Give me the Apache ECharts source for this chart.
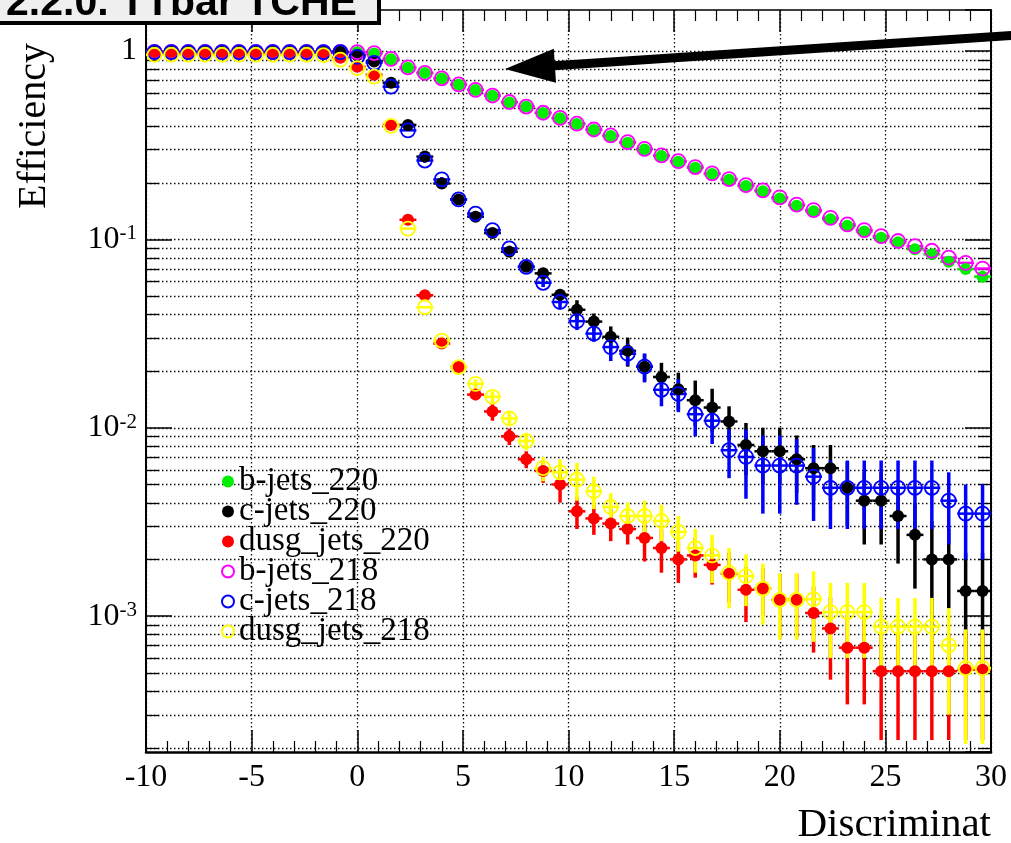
<!DOCTYPE html>
<html>
<head>
<meta charset="utf-8">
<script src="https://cdn.jsdelivr.net/npm/echarts@6/dist/echarts.min.js"></script>
<style>
html,body{margin:0;padding:0;background:#fff;}
#chart{width:1011px;height:843px;}
</style>
</head>
<body>
<div id="chart"></div>
<script>
// ---- data ----
const X_BINS = [-9.6,-8.8,-8.0,-7.2,-6.4,-5.6,-4.8,-4.0,-3.2,-2.4,-1.6,-0.8,0.0,0.8,1.6,2.4,3.2,4.0,4.8,5.6,
  6.4,7.2,8.0,8.8,9.6,10.4,11.2,12.0,12.8,13.6,14.4,15.2,16.0,16.8,17.6,18.4,19.2,20.0,20.8,21.6,
  22.4,23.2,24.0,24.8,25.6,26.4,27.2,28.0,28.8,29.6];

const B_JETS_220 = [0.99,0.99,0.99,0.99,0.99,0.99,0.99,0.99,0.99,0.99,0.99,0.99,0.985,0.97,0.905,0.815,0.763,0.715,0.662,0.62,
  0.578,0.533,0.505,0.468,0.439,0.409,0.381,0.354,0.326,0.300,0.277,0.258,0.240,0.222,0.207,0.192,0.180,0.165,0.151,0.141,
  0.128,0.118,0.110,0.102,0.0964,0.0886,0.0833,0.0761,0.0696,0.0634];
const C_JETS_220 = [0.99,0.99,0.99,0.99,0.99,0.99,0.99,0.99,0.99,0.99,0.99,0.99,0.95,0.88,0.679,0.405,0.275,0.198,0.163,0.132,
  0.108,0.086,0.0715,0.066,0.0508,0.0423,0.0366,0.0304,0.0256,0.0211,0.0186,0.016,0.014,0.0128,0.0108,0.0081,0.0075,0.0075,0.0068,0.0061,
  0.0061,0.0048,0.0041,0.0041,0.0034,0.0027,0.0020,0.0020,0.00136,0.00136];
const DUSG_JETS_220 = [0.968,0.968,0.968,0.968,0.968,0.968,0.968,0.968,0.968,0.968,0.96,0.92,0.825,0.748,0.405,0.127,0.0505,0.028,0.021,0.0150,
  0.0122,0.0090,0.0068,0.0059,0.0050,0.0036,0.0033,0.0031,0.0029,0.0026,0.0023,0.0020,0.0021,0.00187,0.00168,0.00138,0.0014,0.00122,0.00122,0.00104,
  0.00086,0.00068,0.00068,0.00051,0.00051,0.00051,0.00051,0.00051,0.00052,0.00052];
const B_JETS_218 = [0.99,0.99,0.99,0.99,0.99,0.99,0.99,0.99,0.99,0.99,0.985,0.99,0.985,0.975,0.908,0.818,0.765,0.716,0.664,0.622,
  0.58,0.536,0.507,0.47,0.441,0.411,0.383,0.356,0.328,0.302,0.279,0.26,0.242,0.224,0.209,0.194,0.182,0.167,0.153,0.143,
  0.13,0.12,0.112,0.104,0.098,0.092,0.087,0.080,0.075,0.070];
const C_JETS_218 = [0.985,0.985,0.985,0.985,0.985,0.985,0.985,0.985,0.985,0.985,0.985,0.985,0.93,0.865,0.646,0.379,0.262,0.208,0.163,0.137,
  0.112,0.0895,0.0715,0.0588,0.0465,0.0368,0.0316,0.0268,0.0247,0.0211,0.0159,0.0151,0.0118,0.0109,0.0076,0.0070,0.0063,0.0063,0.0063,0.0055,
  0.0048,0.0048,0.0048,0.0048,0.0048,0.0048,0.0048,0.0041,0.0035,0.0035];
const DUSG_JETS_218 = [0.955,0.955,0.955,0.955,0.955,0.955,0.955,0.955,0.955,0.955,0.95,0.90,0.81,0.73,0.40,0.114,0.0436,0.029,0.021,0.0171,
  0.0146,0.0112,0.0085,0.0061,0.0058,0.0053,0.0046,0.0038,0.0034,0.0034,0.0032,0.0028,0.0023,0.0021,0.0017,0.00163,0.0014,0.00122,0.00122,0.00123,
  0.00105,0.00105,0.00105,0.00088,0.00088,0.00088,0.00088,0.00070,0.00053,0.00053];

// vertical error bars (absolute, symmetric)
const C_JETS_220_ERR = [0,0,0,0,0,0,0,0,0,0,0,0,0,0,0,0,0.008,0.006,0.005,0.0045,
  0.003,0.003,0.003,0.003,0.0035,0.0052,0.0038,0.0041,0.0045,0.0035,0.0035,0.0036,0.0038,0.0033,0.0022,0.0025,0.0025,0.0025,0.0023,0.002,
  0.002,0.0018,0.0017,0.0017,0.0015,0.0013,0.0012,0.0009,0.0008,0.0008];
const C_JETS_218_ERR = [0,0,0,0,0,0,0,0,0,0,0,0,0,0,0,0,0.007,0.006,0.005,0.0045,
  0.003,0.003,0.003,0.003,0.0035,0.0038,0.003,0.0042,0.0033,0.0037,0.0029,0.003,0.0028,0.0027,0.0022,0.0028,0.0028,0.0028,0.0024,0.0023,
  0.0019,0.0019,0.0019,0.0019,0.0019,0.0019,0.0019,0.0017,0.0015,0.0015];
const DUSG_JETS_220_ERR = [0,0,0,0,0,0,0,0,0,0,0,0,0,0,0,0,0,0.0015,0.0012,0.001,
  0.0013,0.0009,0.0007,0.0008,0.001,0.0007,0.0006,0.0006,0.0005,0.00065,0.0006,0.0005,0.0005,0.0004,0.0005,0.00045,0.0004,0.00045,0.00045,0.0004,
  0.0004,0.00034,0.00034,0.00029,0.00029,0.00029,0.00029,0.00029,0.0003,0.0003];
const DUSG_JETS_218_ERR = [0,0,0,0,0,0,0,0,0,0,0,0,0,0,0,0,0,0.0015,0.0012,0.001,
  0.001,0.001,0.0009,0.0009,0.001,0.0012,0.0009,0.0007,0.0006,0.0007,0.0007,0.0006,0.0006,0.0006,0.0006,0.0005,0.0005,0.00047,0.00047,0.0005,
  0.00045,0.00045,0.00045,0.00037,0.00037,0.00037,0.00037,0.0004,0.00032,0.00032];

const X_MIN = -10, X_MAX = 30, X_STEP = 5;
const Y_MIN = 1.9e-4, Y_MAX = 1.65;
const HALF_BIN = 0.4;
const TITLE = '2.2.0. TTbar TCHE';
const X_TITLE = 'Discriminat';
const Y_TITLE = 'Efficiency';

// ---- chart ----
const FONT = 'Liberation Serif';
const chart = echarts.init(document.getElementById('chart'), null, {renderer: 'canvas'});

const SERIES_DEF = [
  {name: 'b-jets_220', vals: B_JETS_220, err: null, color: '#00ee00', open: false},
  {name: 'c-jets_220', vals: C_JETS_220, err: C_JETS_220_ERR, color: '#000000', open: false},
  {name: 'dusg_jets_220', vals: DUSG_JETS_220, err: DUSG_JETS_220_ERR, color: '#ff0000', open: false},
  {name: 'b-jets_218', vals: B_JETS_218, err: null, color: '#ff00ff', open: true},
  {name: 'c-jets_218', vals: C_JETS_218, err: C_JETS_218_ERR, color: '#0000ff', open: true},
  {name: 'dusg_jets_218', vals: DUSG_JETS_218, err: DUSG_JETS_218_ERR, color: '#ffff00', open: true}
];

// grid lines / minor ticks of the log axis (1..9 x 10^k)
const GRID_VALUES = [];
for (let e = -4; e <= 0; e++) {
  for (let m = 1; m <= 9; m++) {
    const v = m * Math.pow(10, e);
    if (v > Y_MIN && v < Y_MAX) GRID_VALUES.push([X_MIN, v, m]);
  }
}

function gridRender(params, api) {
  const cs = params.coordSys;
  const p = api.coord([X_MIN, api.value(1)]);
  const y = Math.round(p[1]) + 0.5;
  const m = api.value(2);
  const children = [{
    type: 'line', silent: true,
    shape: {x1: cs.x, y1: y, x2: cs.x + cs.width, y2: y},
    style: {stroke: '#111', lineWidth: 1.3, lineDash: [1.5, 2.5]}
  }];
  if (m !== 1) {
    children.push({type: 'line', silent: true, shape: {x1: cs.x, y1: y, x2: cs.x + 13, y2: y}, style: {stroke: '#000', lineWidth: 1.3}});
    children.push({type: 'line', silent: true, shape: {x1: cs.x + cs.width - 13, y1: y, x2: cs.x + cs.width, y2: y}, style: {stroke: '#000', lineWidth: 1.3}});
  }
  return {type: 'group', children};
}

function errRender(color) {
  return function (params, api) {
    const x = api.value(0), y = api.value(1), e = api.value(2);
    const pL = api.coord([x - HALF_BIN, y]);
    const pR = api.coord([x + HALF_BIN, y]);
    const children = [{
      type: 'line', silent: true,
      shape: {x1: pL[0], y1: pL[1], x2: pR[0], y2: pR[1]},
      style: {stroke: color, lineWidth: 2.5}
    }];
    if (e > 0) {
      const lo = Math.max(y - e, Y_MIN), hi = Math.min(y + e, Y_MAX);
      const pt = api.coord([x, hi]), pb = api.coord([x, lo]);
      children.push({type: 'line', silent: true,
        shape: {x1: pt[0], y1: pt[1], x2: pb[0], y2: pb[1]},
        style: {stroke: color, lineWidth: 3.5}});
    }
    return {type: 'group', children};
  };
}

const series = [{
  type: 'custom', name: 'grid-minor', silent: true, z: 1,
  renderItem: gridRender, data: GRID_VALUES, animation: false
}];

SERIES_DEF.forEach(function (d) {
  series.push({
    type: 'custom', name: d.name + ' err', silent: true, z: 2,
    renderItem: errRender(d.color),
    data: X_BINS.map(function (x, i) { return [x, d.vals[i], d.err ? d.err[i] : 0]; }),
    animation: false
  });
  series.push({
    type: 'scatter', name: d.name, z: 2, silent: true,
    symbol: 'circle', symbolSize: d.open ? 14 : 12,
    itemStyle: d.open
      ? {color: 'rgba(255,255,255,0)', borderColor: d.color, borderWidth: 1.8, opacity: 1}
      : {color: d.color, borderWidth: 0, opacity: 1},
    emphasis: {disabled: true},
    data: X_BINS.map(function (x, i) { return [x, d.vals[i]]; }),
    animation: false
  });
});

function yLabel(v) {
  const l = Math.log10(v);
  const e = Math.round(l);
  if (Math.abs(l - e) > 1e-6) return '';
  if (e === 0) return '1';
  return '10{sup|' + e + '}';
}

const option = {
  backgroundColor: '#ffffff',
  animation: false,
  grid: {left: 146, right: 20, top: 10, bottom: 91, containLabel: false, outerBoundsMode: 'none'},
  legend: {
    orient: 'vertical', left: 216, top: 460, itemGap: -3,
    itemWidth: 12, itemHeight: 12, selectedMode: false,
    data: SERIES_DEF.map(function (d) { return d.name; }),
    textStyle: {fontFamily: FONT, fontSize: 33, color: '#000', lineHeight: 30}
  },
  xAxis: [{
    type: 'value', min: X_MIN, max: X_MAX, interval: X_STEP, position: 'bottom',
    axisLine: {show: true, onZero: false, lineStyle: {color: '#000', width: 2.5}},
    axisTick: {show: true, inside: true, length: 22, lineStyle: {color: '#000', width: 1.5}},
    minorTick: {show: true, splitNumber: 5, length: 11, lineStyle: {color: '#000', width: 1.2}},
    axisLabel: {fontFamily: FONT, fontSize: 32, color: '#000', margin: 10},
    splitLine: {show: true, lineStyle: {color: '#111', width: 1.3, type: [1.5, 2.5]}}
  }, {
    type: 'value', min: X_MIN, max: X_MAX, interval: X_STEP, position: 'top',
    axisLine: {show: true, onZero: false, lineStyle: {color: '#000', width: 1.5}},
    axisTick: {show: true, inside: true, length: 22, lineStyle: {color: '#000', width: 1.5}},
    minorTick: {show: true, splitNumber: 5, length: 11, lineStyle: {color: '#000', width: 1.2}},
    axisLabel: {show: false}, splitLine: {show: false}
  }],
  yAxis: [{
    type: 'log', logBase: 10, min: Y_MIN, max: Y_MAX, position: 'left',
    axisLine: {show: true, onZero: false, lineStyle: {color: '#000', width: 2}},
    axisTick: {show: true, inside: true, length: 26, lineStyle: {color: '#000', width: 1.5}},
    axisLabel: {
      fontFamily: FONT, fontSize: 32, color: '#000', margin: 9,
      showMinLabel: false, showMaxLabel: false,
      formatter: yLabel,
      rich: {sup: {fontFamily: FONT, fontSize: 21, color: '#000', verticalAlign: 'top', lineHeight: 21}}
    },
    splitLine: {show: false}
  }, {
    type: 'log', logBase: 10, min: Y_MIN, max: Y_MAX, position: 'right',
    axisLine: {show: true, onZero: false, lineStyle: {color: '#000', width: 2}},
    axisTick: {show: true, inside: true, length: 26, lineStyle: {color: '#000', width: 1.5}},
    axisLabel: {show: false}, splitLine: {show: false}
  }],
  series: series,
  graphic: [
    // y-axis title
    {type: 'text', x: 34, y: 126, rotation: Math.PI / 2, silent: true,
      style: {text: Y_TITLE, font: '40px "Liberation Serif"', fill: '#000', textAlign: 'center', textVerticalAlign: 'middle'}},
    // x-axis title
    {type: 'text', x: 991, y: 825, silent: true,
      style: {text: X_TITLE, font: '41px "Liberation Serif"', fill: '#000', textAlign: 'right', textVerticalAlign: 'middle'}},
    // title box with shadow
    {type: 'rect', silent: true, z: 100, shape: {x: -10, y: -10, width: 391, height: 35}, style: {fill: '#000'}},
    {type: 'rect', silent: true, z: 101, shape: {x: -10, y: -10, width: 388, height: 32}, style: {fill: '#efefef', stroke: '#000', lineWidth: 2}},
    {type: 'text', silent: true, z: 102, x: 6, y: 4,
      style: {text: TITLE, font: 'bold 41px "Liberation Sans"', fill: '#000', textAlign: 'left', textVerticalAlign: 'middle'}},
    // annotation arrow
    {type: 'line', silent: true, z: 90, shape: {x1: 1015, y1: 35.3, x2: 550, y2: 66}, style: {stroke: '#000', lineWidth: 9}},
    {type: 'polygon', silent: true, z: 91, shape: {points: [[505, 69], [553.8, 48.7], [556, 82.7]]}, style: {fill: '#000'}}
  ]
};

chart.setOption(option);
</script>
</body>
</html>
